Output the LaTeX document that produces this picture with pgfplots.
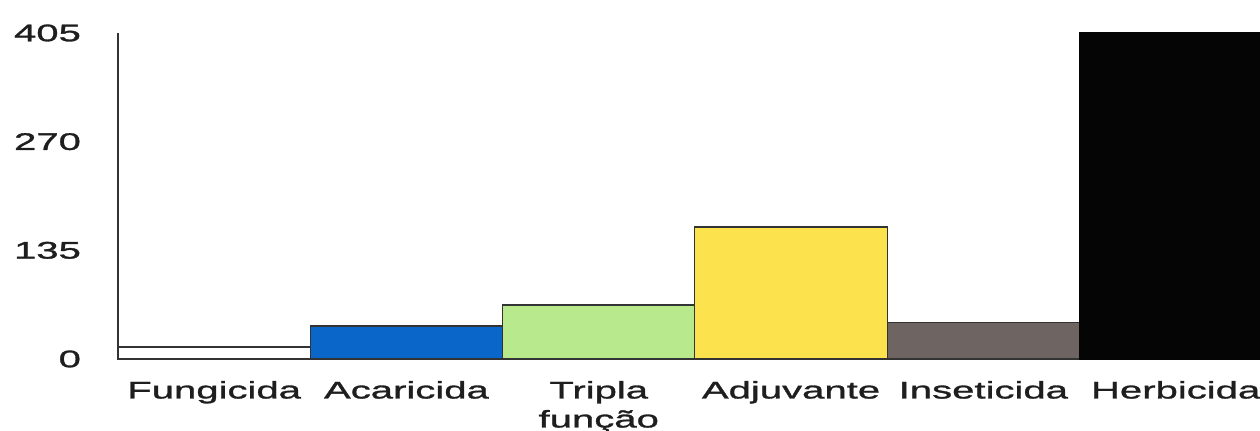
\documentclass[border=0pt]{standalone}
\usepackage{pgfplots}
\pgfplotsset{compat=1.18}
\usepackage{fontspec}
\setmainfont[FakeStretch=1.67,FakeBold=1.3]{Liberation Sans}
\definecolor{cblue}{HTML}{0A66C8}
\definecolor{cgreen}{HTML}{B8E98C}
\definecolor{cyellow}{HTML}{FCE24C}
\definecolor{cgray}{HTML}{6E6563}
\definecolor{cblack}{HTML}{050505}
\definecolor{edge}{HTML}{333333}
\definecolor{txt}{HTML}{1E1E1E}
\begin{document}
\begin{tikzpicture}
\begin{axis}[
  at={(0,0)}, anchor=south west,
  scale only axis, width=576.9pt, height=163pt,
  xmin=-0.5, xmax=5.5, ymin=0, ymax=405,
  axis x line*=bottom, axis y line*=left,
  x axis line style={draw=none},
  y axis line style={-, draw=edge, line width=0.9pt},
  ytick={0,135,270,405},
  xtick={0,1,2,3,4,5},
  xticklabels={Fungicida,Acaricida,Tripla\\função,Adjuvante,Inseticida,Herbicida},
  major tick length=0pt,
  /pgf/number format/assume math mode=true,
  tick label style={font=\fontsize{12}{14.5}\selectfont, text=txt},
  yticklabel style={anchor=east, xshift=-15pt},
  xticklabel style={align=center, anchor=north, yshift=-7.5pt},
  ybar, bar width=1,
  clip=false,
]
\addplot[fill=white, draw=edge, line width=0.6pt, bar shift=0pt] coordinates {(0,15)};
\addplot[fill=cblue, draw=edge, line width=0.6pt, bar shift=0pt] coordinates {(1,41)};
\addplot[fill=cgreen, draw=edge, line width=0.6pt, bar shift=0pt] coordinates {(2,67)};
\addplot[fill=cyellow, draw=edge, line width=0.6pt, bar shift=0pt] coordinates {(3,164)};
\addplot[fill=cgray, draw=edge, line width=0.6pt, bar shift=0pt] coordinates {(4,45)};
\addplot[fill=cblack, draw=cblack, line width=0.6pt, bar shift=0pt] coordinates {(5,405)};
\end{axis}
\pgfresetboundingbox
\useasboundingbox (-59pt,-36pt) rectangle (571pt,179.5pt);
\end{tikzpicture}
\end{document}
